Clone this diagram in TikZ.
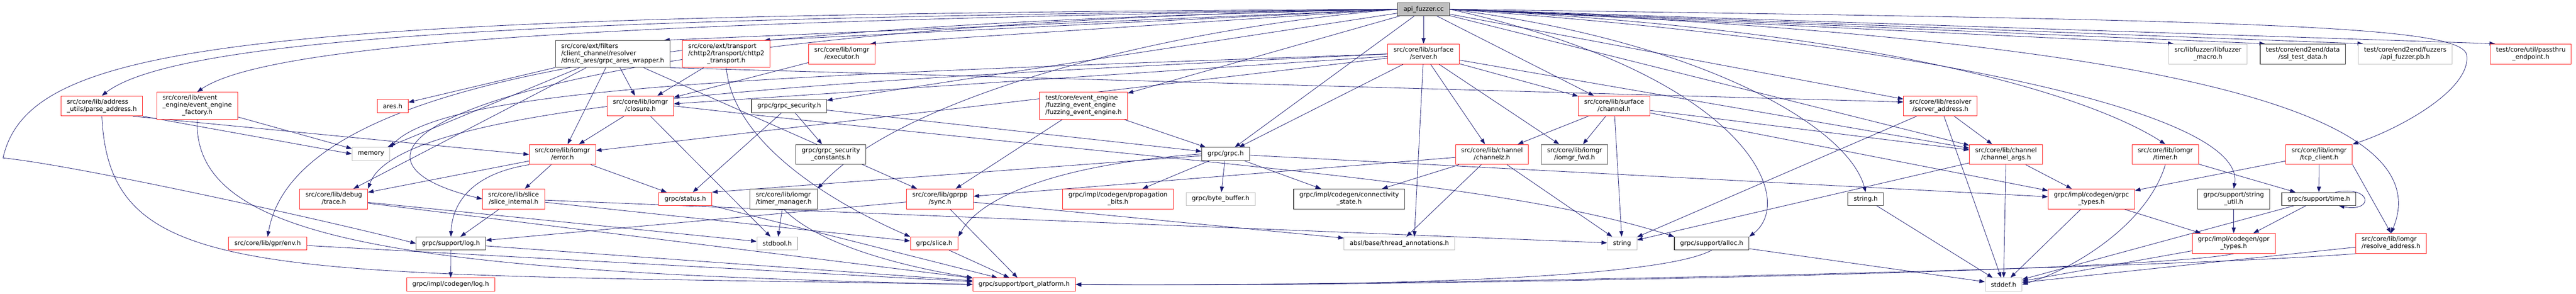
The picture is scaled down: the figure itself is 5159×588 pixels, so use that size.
\documentclass[tikz,border=0pt]{standalone}
\usepackage{fontspec}
\setmainfont{DejaVu Sans}
\usetikzlibrary{arrows.meta,backgrounds}
\definecolor{edgeblue}{HTML}{191970}
\definecolor{redline}{HTML}{FF1A1A}
\definecolor{darkline}{HTML}{404040}
\definecolor{greyline}{HTML}{BFBFBF}
\newcommand{\hdrfont}{\fontsize{12.6}{14.5}\selectfont}
\newcommand{\hlbl}[2]{\begin{tabular}{@{}l@{}}#1\\\multicolumn{1}{@{}c@{}}{#2}\end{tabular}}
\tikzset{
	hdr/.style={draw, fill=white, font=\hdrfont, inner xsep=11.5pt, inner ysep=0pt, line width=1.1pt},
	redhdr/.style={hdr, draw=redline},
	blackhdr/.style={hdr, draw=darkline},
	greyhdr/.style={hdr, draw=greyline},
	roothdr/.style={hdr, draw=darkline, fill=greyline},
	h1/.style={minimum height=26pt},
	h2/.style={minimum height=40pt},
	h3/.style={minimum height=54pt},
	dep/.style={draw=edgeblue, line width=0.85pt, -{Triangle[length=11pt,width=8pt]}}
}

\begin{document}
\begin{tikzpicture}[x=1pt,y=-1pt]
			\useasboundingbox (0,0) rectangle (5159,588);
			%%%%% NODES %%%%%
			\node[roothdr,h1] (fuzzer) at (2851,18.5) {api\_fuzzer.cc};
			
			\node[blackhdr,h3] (aresw) at (1227,108) {\hlbl{src/core/ext/filters\\/client\_channel/resolver}{/dns/c\_ares/grpc\_ares\_wrapper.h}};
			\node[redhdr,h3] (chttp2) at (1454.5,108) {\hlbl{src/core/ext/transport\\/chttp2/transport/chttp2}{\_transport.h}};
			\node[redhdr,h2] (executor) at (1686,108) {\hlbl{src/core/lib/iomgr}{/executor.h}};
			\node[redhdr,h2] (server) at (2851,108) {\hlbl{src/core/lib/surface}{/server.h}};
			\node[greyhdr,h2] (libfuzz) at (4422,108) {\hlbl{src/libfuzzer/libfuzzer}{\_macro.h}};
			\node[blackhdr,h2] (ssldata) at (4612,108) {\hlbl{test/core/end2end/data}{/ssl\_test\_data.h}};
			\node[greyhdr,h2] (fuzzpb) at (4817,108) {\hlbl{test/core/end2end/fuzzers}{/api\_fuzzer.pb.h}};
			\node[redhdr,h2] (passthru) at (5068.5,108) {\hlbl{test/core/util/passthru}{\_endpoint.h}};
			
			\node[redhdr,h2] (parseaddr) at (204,212) {\hlbl{src/core/lib/address}{\_utils/parse\_address.h}};
			\node[redhdr,h3] (eefactory) at (395,211.5) {\hlbl{src/core/lib/event\\\_engine/event\_engine}{\_factory.h}};
			\node[redhdr,h1] (ares) at (786.5,212) {ares.h};
			\node[redhdr,h2] (closure) at (1282.5,212) {\hlbl{src/core/lib/iomgr}{/closure.h}};
			\node[blackhdr,h1] (security) at (1580.5,212) {grpc/grpc\_security.h};
			\node[redhdr,h3] (fuzzee) at (2170,211.5) {\hlbl{test/core/event\_engine\\/fuzzing\_event\_engine}{/fuzzing\_event\_engine.h}};
			\node[redhdr,h2] (channel) at (3232.5,212) {\hlbl{src/core/lib/surface}{/channel.h}};
			\node[redhdr,h2] (serveraddr) at (3886,212) {\hlbl{src/core/lib/resolver}{/server\_address.h}};
			
			\node[greyhdr,h1] (memory) at (743,308) {memory};
			\node[redhdr,h2] (error) at (1126.5,309) {\hlbl{src/core/lib/iomgr}{/error.h}};
			\node[blackhdr,h2] (secconst) at (1664,309) {\hlbl{grpc/grpc\_security}{\_constants.h}};
			\node[blackhdr,h1] (grpch) at (2454.5,308) {grpc/grpc.h};
			\node[redhdr,h2] (channelz) at (2988,309) {\hlbl{src/core/lib/channel}{/channelz.h}};
			\node[blackhdr,h2] (iomgrfwd) at (3153.5,309) {\hlbl{src/core/lib/iomgr}{/iomgr\_fwd.h}};
			\node[redhdr,h2] (chanargs) at (4017.5,309) {\hlbl{src/core/lib/channel}{/channel\_args.h}};
			\node[redhdr,h2] (timer) at (4336.5,309) {\hlbl{src/core/lib/iomgr}{/timer.h}};
			\node[redhdr,h2] (tcpclient) at (4644.5,309) {\hlbl{src/core/lib/iomgr}{/tcp\_client.h}};
			
			\node[redhdr,h2] (trace) at (668.5,398) {\hlbl{src/core/lib/debug}{/trace.h}};
			\node[redhdr,h2] (sliceint) at (1028.5,398) {\hlbl{src/core/lib/slice}{/slice\_internal.h}};
			\node[redhdr,h1] (status) at (1372.5,398) {grpc/status.h};
			\node[blackhdr,h2] (timermgr) at (1569.5,398) {\hlbl{src/core/lib/iomgr}{/timer\_manager.h}};
			\node[redhdr,h2] (sync) at (1882.5,398) {\hlbl{src/core/lib/gprpp}{/sync.h}};
			\node[redhdr,h2] (propbits) at (2239,398) {\hlbl{grpc/impl/codegen/propagation}{\_bits.h}};
			\node[greyhdr,h1] (bytebuf) at (2444.5,398) {grpc/byte\_buffer.h};
			\node[blackhdr,h2] (connstate) at (2702,398) {\hlbl{grpc/impl/codegen/connectivity}{\_state.h}};
			\node[blackhdr,h1] (stringh) at (3736.5,398) {string.h};
			\node[redhdr,h2] (grpctypes) at (4188.5,398) {\hlbl{grpc/impl/codegen/grpc}{\_types.h}};
			\node[blackhdr,h2] (strutil) at (4473.5,398) {\hlbl{grpc/support/string}{\_util.h}};
			\node[blackhdr,h1] (time) at (4644,398) {grpc/support/time.h};
			
			\node[redhdr,h1] (env) at (536,487) {src/core/lib/gpr/env.h};
			\node[blackhdr,h1] (log) at (903,487) {grpc/support/log.h};
			\node[greyhdr,h1] (stdbool) at (1556.5,487) {stdbool.h};
			\node[redhdr,h1] (slice) at (1871,487) {grpc/slice.h};
			\node[greyhdr,h1] (absl) at (2802.5,487) {absl/base/thread\_annotations.h};
			\node[greyhdr,h1] (string) at (3248.5,487) {string};
			\node[blackhdr,h1] (alloc) at (3428,487) {grpc/support/alloc.h};
			\node[redhdr,h2] (gprtypes) at (4473.5,487) {\hlbl{grpc/impl/codegen/gpr}{\_types.h}};
			\node[redhdr,h2] (resolveaddr) at (4788.5,487) {\hlbl{src/core/lib/iomgr}{/resolve\_address.h}};
			
			\node[redhdr,h1] (codegenlog) at (902.5,569) {grpc/impl/codegen/log.h};
			\node[redhdr,h1] (portplat) at (2051,569) {grpc/support/port\_platform.h};
			\node[greyhdr,h1] (stddef) at (4012.5,569) {stddef.h};
			
			\coordinate (leftloop) at (6,316);
			\coordinate (rightloop) at (4940,110);
			
			%%%%% EDGES %%%%%
			\begin{scope}[on background layer]
			\foreach \src/\dst in {fuzzer/server, fuzzer/fuzzee, fuzzer/grpch, fuzzer/channel, fuzzer/serveraddr, fuzzer/chanargs, fuzzer/security,
				aresw/ares, aresw/memory, aresw/closure, aresw/error, aresw/trace, aresw/sync,
				chttp2/closure, executor/closure,
				server/channel, server/channelz, server/grpch, server/chanargs, server/iomgrfwd, server/closure, server/error,
				eefactory/memory, env/portplat,
				closure/error, closure/stdbool,
				error/trace, error/sliceint, error/status,
				sliceint/log, sliceint/slice, sliceint/string,
				trace/portplat, trace/stdbool, log/codegenlog, log/portplat, status/portplat,
				security/secconst, security/status, security/grpch,
				timermgr/stdbool, sync/absl, sync/portplat, sync/log,
				fuzzee/sync, fuzzee/grpch,
				grpch/bytebuf, grpch/propbits, grpch/connstate, grpch/grpctypes,
				channelz/connstate, channelz/string, channelz/sync, channelz/absl,
				channel/channelz, channel/iomgrfwd, channel/string, channel/chanargs, channel/grpctypes,
				serveraddr/chanargs, serveraddr/string, serveraddr/stddef,
				chanargs/grpctypes, chanargs/stddef, chanargs/string,
				stringh/stddef, grpctypes/gprtypes, grpctypes/stddef,
				timer/time, tcpclient/time, tcpclient/grpctypes,
				strutil/gprtypes, time/gprtypes, time/stddef, gprtypes/stddef, resolveaddr/stddef, alloc/stddef,
				slice/portplat}
				\draw[dep] (\src) -- (\dst);
			
			\draw[dep] (fuzzer.west) -- ([xshift=-12pt]aresw.north east);
			\draw[dep] (fuzzer.west) -- ([xshift=-12pt]chttp2.north east);
			\draw[dep] (fuzzer.west) -- ([xshift=-10pt]executor.north east);
			\draw[dep] (fuzzer.east) -- ([xshift=10pt]libfuzz.north west);
			\draw[dep] (fuzzer.east) -- ([xshift=10pt]ssldata.north west);
			\draw[dep] (fuzzer.east) -- ([xshift=10pt]fuzzpb.north west);
			\draw[dep] (fuzzer.east) -- ([xshift=10pt]passthru.north west);
			\draw[dep] (server) -- ([xshift=30pt]absl.north);
			\draw[dep] (parseaddr.south east) -- (memory.west);
			\draw[dep] ([xshift=-20pt]parseaddr.south east) -- (error.west);
			\draw[dep] (aresw.south east) -- ([yshift=8pt]serveraddr.west);
			\draw[dep] (grpch) -- (status.north east);
			\draw[dep] (tcpclient.south east) -- (resolveaddr.north);
			
			\draw[dep] (fuzzer.west) .. controls (1400,35) and (380,55) .. (parseaddr.north);
			\draw[dep] (fuzzer.west) .. controls (1500,40) and (560,70) .. (eefactory.north);
			\draw[dep] (fuzzer.west) .. controls (1600,45) and (600,110) .. (env.north);
			\draw[dep] (fuzzer.west) .. controls (1000,50) and (560,300) .. (sliceint.west);
			\draw[dep] (fuzzer.west) .. controls (500,30) and (60,80) .. (leftloop) .. controls (150,330) and (650,440) .. (log.west);
			\draw[dep] (fuzzer.west) .. controls (2300,60) and (1800,200) .. (timermgr.north east);
			\draw[dep] (fuzzer.east) .. controls (3800,60) and (4200,200) .. (timer.north);
			\draw[dep] (fuzzer.east) .. controls (3800,80) and (4500,220) .. (strutil.north);
			\draw[dep] (fuzzer.east) .. controls (3400,80) and (3700,250) .. (stringh.north);
			\draw[dep] (fuzzer.east) .. controls (3500,150) and (3600,400) .. (alloc.north east);
			\draw[dep] (fuzzer.east) .. controls (4500,40) and (4930,50) .. (rightloop) .. controls (4950,180) and (4800,260) .. (tcpclient.north east);
			\draw[dep] (fuzzer.east) .. controls (4200,70) and (4900,200) .. (resolveaddr.north);
			\draw[dep] (server.west) .. controls (1600,150) and (900,170) .. (memory.north east);
			\draw[dep] (server.west) .. controls (1700,160) and (800,200) .. (trace.north east);
			\draw[dep] (error.south west) .. controls (930,350) and (905,420) .. (log.north);
			\draw[dep] (chttp2.south) .. controls (1470,300) and (1700,420) .. (slice.north west);
			\draw[dep] (grpch.west) .. controls (2100,330) and (1960,400) .. (slice.north east);
			\draw[dep] (closure.east) .. controls (2400,330) and (3000,360) .. (alloc.north west);
			\draw[dep] (parseaddr.south) .. controls (220,570) and (520,545) .. (portplat.west);
			\draw[dep] (eefactory.south) .. controls (385,480) and (800,545) .. (portplat.west);
			\draw[dep] (timermgr.south) .. controls (1650,500) and (1850,540) .. (portplat.north west);
			\draw[dep] (timer.south) .. controls (4300,450) and (4150,540) .. (stddef.east);
			\draw[dep] (resolveaddr.south west) .. controls (4300,540) and (2600,575) .. (portplat.east);
			\draw[dep] (gprtypes.south) .. controls (4300,545) and (2700,575) .. (portplat.east);
			\draw[dep] (alloc.south) .. controls (3300,570) and (2500,572) .. (portplat.east);
			\draw[dep] ([xshift=33pt]time.north) .. controls +(75,-14) and +(70,14) .. ([xshift=40pt]time.south);
			\end{scope}
			%%%%% END %%%%%
\end{tikzpicture}
\end{document}
